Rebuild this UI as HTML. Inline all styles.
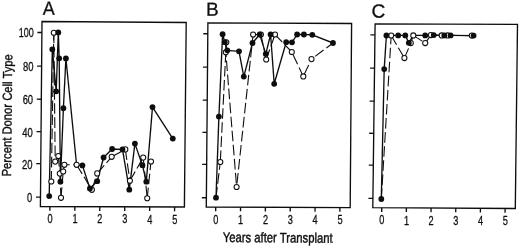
<!DOCTYPE html>
<html><head><meta charset="utf-8"><title>Percent Donor Cell Type</title>
<style>html,body{margin:0;padding:0;background:#fff;}body{width:520px;height:247px;overflow:hidden;font-family:"Liberation Sans",sans-serif;}svg{display:block;}</style>
</head><body>
<svg width="520" height="247" viewBox="0 0 520 247">
<defs><filter id="bl" x="-5%" y="-5%" width="110%" height="110%"><feGaussianBlur stdDeviation="0.4"/></filter></defs>
<rect width="520" height="247" fill="#fff"/>
<g filter="url(#bl)">
<g fill="none" stroke="#111" stroke-width="1.35" stroke-linecap="butt" stroke-linejoin="miter">
<polygon points="42.00,21.50 186.20,22.50 184.40,207.00 40.40,206.50"/>
<line x1="40.48" y1="197.19" x2="35.98" y2="197.17"/>
<line x1="40.77" y1="163.65" x2="36.27" y2="163.63"/>
<line x1="41.05" y1="131.61" x2="36.55" y2="131.59"/>
<line x1="41.33" y1="99.22" x2="36.83" y2="99.20"/>
<line x1="41.61" y1="66.09" x2="37.11" y2="66.07"/>
<line x1="41.90" y1="32.49" x2="37.40" y2="32.47"/>
<line x1="49.90" y1="206.53" x2="49.87" y2="210.73"/>
<line x1="74.84" y1="206.62" x2="74.81" y2="210.82"/>
<line x1="99.79" y1="206.71" x2="99.76" y2="210.91"/>
<line x1="124.73" y1="206.79" x2="124.70" y2="210.99"/>
<line x1="149.67" y1="206.88" x2="149.64" y2="211.08"/>
<line x1="174.61" y1="206.97" x2="174.58" y2="211.17"/>
<polygon points="207.90,22.80 351.60,23.50 350.20,207.60 206.30,207.00"/>
<line x1="206.38" y1="197.73" x2="201.88" y2="197.71"/>
<line x1="206.67" y1="164.34" x2="202.17" y2="164.32"/>
<line x1="206.95" y1="132.44" x2="202.45" y2="132.42"/>
<line x1="207.23" y1="100.18" x2="202.73" y2="100.16"/>
<line x1="207.51" y1="67.19" x2="203.01" y2="67.17"/>
<line x1="207.80" y1="33.74" x2="203.30" y2="33.72"/>
<line x1="215.70" y1="207.04" x2="215.67" y2="211.24"/>
<line x1="240.54" y1="207.14" x2="240.51" y2="211.34"/>
<line x1="265.38" y1="207.25" x2="265.35" y2="211.45"/>
<line x1="290.22" y1="207.35" x2="290.19" y2="211.55"/>
<line x1="315.06" y1="207.45" x2="315.03" y2="211.65"/>
<line x1="339.90" y1="207.56" x2="339.87" y2="211.76"/>
<polygon points="375.10,23.90 517.50,24.40 515.30,208.50 372.80,207.70"/>
<line x1="372.92" y1="198.45" x2="368.42" y2="198.43"/>
<line x1="373.33" y1="165.13" x2="368.83" y2="165.11"/>
<line x1="373.73" y1="133.30" x2="369.23" y2="133.28"/>
<line x1="374.13" y1="101.11" x2="369.63" y2="101.09"/>
<line x1="374.55" y1="68.20" x2="370.05" y2="68.18"/>
<line x1="374.96" y1="34.82" x2="370.46" y2="34.80"/>
<line x1="381.71" y1="207.75" x2="381.68" y2="211.95"/>
<line x1="406.38" y1="207.89" x2="406.35" y2="212.09"/>
<line x1="431.06" y1="208.03" x2="431.03" y2="212.23"/>
<line x1="455.74" y1="208.17" x2="455.71" y2="212.37"/>
<line x1="480.42" y1="208.30" x2="480.39" y2="212.50"/>
<line x1="505.10" y1="208.44" x2="505.07" y2="212.64"/>
</g>
<line fill="none" stroke="#111" stroke-width="1.1" stroke-dasharray="10.6 3.5" stroke-dashoffset="0.0" x1="51.3" y1="181.5" x2="53.8" y2="32.7"/>
<line fill="none" stroke="#111" stroke-width="1.1" stroke-dasharray="10.6 3.5" stroke-dashoffset="0.0" x1="53.8" y1="32.7" x2="55.2" y2="161.6"/>
<line fill="none" stroke="#111" stroke-width="1.1" stroke-dasharray="10.6 3.5" stroke-dashoffset="0.0" x1="55.2" y1="161.6" x2="58.3" y2="156.0"/>
<line fill="none" stroke="#111" stroke-width="1.1" stroke-dasharray="10.6 3.5" stroke-dashoffset="0.0" x1="58.3" y1="156.0" x2="59.8" y2="173.6"/>
<line fill="none" stroke="#111" stroke-width="1.1" stroke-dasharray="10.6 3.5" stroke-dashoffset="0.0" x1="59.8" y1="173.6" x2="61.0" y2="197.8"/>
<line fill="none" stroke="#111" stroke-width="1.1" stroke-dasharray="10.6 3.5" stroke-dashoffset="0.0" x1="61.0" y1="197.8" x2="63.2" y2="171.5"/>
<line fill="none" stroke="#111" stroke-width="1.1" stroke-dasharray="10.6 3.5" stroke-dashoffset="0.0" x1="63.2" y1="171.5" x2="64.4" y2="164.8"/>
<line fill="none" stroke="#111" stroke-width="1.1" stroke-dasharray="10.6 3.5" stroke-dashoffset="5.3" x1="64.4" y1="164.8" x2="76.6" y2="164.8"/>
<line fill="none" stroke="#111" stroke-width="1.1" stroke-dasharray="10.6 3.5" stroke-dashoffset="0.0" x1="76.6" y1="164.8" x2="91.9" y2="189.8"/>
<line fill="none" stroke="#111" stroke-width="1.1" stroke-dasharray="10.6 3.5" stroke-dashoffset="0.0" x1="91.9" y1="189.8" x2="97.2" y2="173.4"/>
<line fill="none" stroke="#111" stroke-width="1.1" stroke-dasharray="10.6 3.5" stroke-dashoffset="0.0" x1="97.2" y1="173.4" x2="111.7" y2="156.8"/>
<line fill="none" stroke="#111" stroke-width="1.1" stroke-dasharray="10.6 3.5" stroke-dashoffset="0.0" x1="111.7" y1="156.8" x2="125.3" y2="149.4"/>
<line fill="none" stroke="#111" stroke-width="1.1" stroke-dasharray="10.6 3.5" stroke-dashoffset="0.0" x1="125.3" y1="149.4" x2="129.9" y2="180.8"/>
<line fill="none" stroke="#111" stroke-width="1.1" stroke-dasharray="10.6 3.5" stroke-dashoffset="0.0" x1="129.9" y1="180.8" x2="143.2" y2="157.6"/>
<line fill="none" stroke="#111" stroke-width="1.1" stroke-dasharray="10.6 3.5" stroke-dashoffset="0.0" x1="143.2" y1="157.6" x2="147.2" y2="198.2"/>
<line fill="none" stroke="#111" stroke-width="1.1" stroke-dasharray="10.6 3.5" stroke-dashoffset="0.0" x1="147.2" y1="198.2" x2="151.0" y2="161.5"/>
<polyline fill="none" stroke="#111" stroke-width="1.35" stroke-linejoin="round" points="49.2,196.1 52.3,49.3 56.2,91.3 58.3,32.5 59.2,58.3 60.4,181.7 63.4,108.2 65.9,58.5 76.6,164.8 82.4,165.4 89.9,188.5 97.2,181.2 103.6,157.5 112.1,149.0 122.5,149.4 129.3,189.7 134.9,143.6 142.4,165.2 146.3,181.7 152.5,107.1 172.8,138.6"/>
<line fill="none" stroke="#111" stroke-width="1.1" stroke-dasharray="10.6 3.5" stroke-dashoffset="0.0" x1="216.0" y1="197.7" x2="220.3" y2="162.0"/>
<line fill="none" stroke="#111" stroke-width="1.1" stroke-dasharray="10.6 3.5" stroke-dashoffset="-1.0" x1="220.3" y1="162.0" x2="226.3" y2="42.2"/>
<line fill="none" stroke="#111" stroke-width="1.1" stroke-dasharray="10.6 3.5" stroke-dashoffset="0.0" x1="226.3" y1="42.2" x2="225.8" y2="52.2"/>
<line fill="none" stroke="#111" stroke-width="1.1" stroke-dasharray="10.6 3.5" stroke-dashoffset="5.8" x1="225.8" y1="52.2" x2="236.6" y2="187.0"/>
<line fill="none" stroke="#111" stroke-width="1.1" stroke-dasharray="10.6 3.5" stroke-dashoffset="-3.5" x1="236.6" y1="187.0" x2="253.1" y2="34.6"/>
<line fill="none" stroke="#111" stroke-width="1.1" stroke-dasharray="10.6 3.5" stroke-dashoffset="0.0" x1="253.1" y1="34.6" x2="260.9" y2="34.5"/>
<line fill="none" stroke="#111" stroke-width="1.1" stroke-dasharray="10.6 3.5" stroke-dashoffset="0.0" x1="260.9" y1="34.5" x2="266.2" y2="59.5"/>
<line fill="none" stroke="#111" stroke-width="1.1" stroke-dasharray="10.6 3.5" stroke-dashoffset="0.0" x1="266.2" y1="59.5" x2="275.0" y2="34.5"/>
<line fill="none" stroke="#111" stroke-width="1.1" stroke-dasharray="10.6 3.5" stroke-dashoffset="0.0" x1="275.0" y1="34.5" x2="291.8" y2="52.0"/>
<line fill="none" stroke="#111" stroke-width="1.1" stroke-dasharray="10.6 3.5" stroke-dashoffset="-3.0" x1="291.8" y1="52.0" x2="303.3" y2="76.4"/>
<line fill="none" stroke="#111" stroke-width="1.1" stroke-dasharray="10.6 3.5" stroke-dashoffset="-2.0" x1="303.3" y1="76.4" x2="311.5" y2="59.1"/>
<line fill="none" stroke="#111" stroke-width="1.1" stroke-dasharray="10.6 3.5" stroke-dashoffset="-4.5" x1="311.5" y1="59.1" x2="333.0" y2="43.0"/>
<polyline fill="none" stroke="#111" stroke-width="1.35" stroke-linejoin="round" points="216.0,197.7 218.9,116.6 222.6,34.2 224.8,42.2 227.3,50.3 239.0,51.3 243.8,76.6 252.5,43.0 259.7,34.5 265.8,53.9 270.6,34.5 274.2,83.8 286.2,42.2 292.0,42.3 297.1,34.5 303.9,34.5 312.3,34.8 333.0,43.0"/>
<line fill="none" stroke="#111" stroke-width="1.1" stroke-dasharray="10.6 3.5" stroke-dashoffset="0.0" x1="381.3" y1="199.0" x2="391.2" y2="35.5"/>
<line fill="none" stroke="#111" stroke-width="1.1" stroke-dasharray="10.6 3.5" stroke-dashoffset="0.0" x1="391.2" y1="35.5" x2="404.4" y2="58.1"/>
<line fill="none" stroke="#111" stroke-width="1.1" stroke-dasharray="10.6 3.5" stroke-dashoffset="0.0" x1="404.4" y1="58.1" x2="410.8" y2="43.1"/>
<line fill="none" stroke="#111" stroke-width="1.1" stroke-dasharray="10.6 3.5" stroke-dashoffset="0.0" x1="410.8" y1="43.1" x2="413.3" y2="35.4"/>
<line fill="none" stroke="#111" stroke-width="1.1" stroke-dasharray="10.6 3.5" stroke-dashoffset="0.0" x1="413.3" y1="35.4" x2="425.2" y2="43.1"/>
<line fill="none" stroke="#111" stroke-width="1.1" stroke-dasharray="10.6 3.5" stroke-dashoffset="0.0" x1="425.2" y1="43.1" x2="430.9" y2="35.1"/>
<line fill="none" stroke="#111" stroke-width="1.1" stroke-dasharray="10.6 3.5" stroke-dashoffset="0.0" x1="430.9" y1="35.1" x2="441.7" y2="35.4"/>
<line fill="none" stroke="#111" stroke-width="1.1" stroke-dasharray="10.6 3.5" stroke-dashoffset="0.0" x1="441.7" y1="35.4" x2="447.6" y2="35.4"/>
<line fill="none" stroke="#111" stroke-width="1.1" stroke-dasharray="10.6 3.5" stroke-dashoffset="0.0" x1="447.6" y1="35.4" x2="471.8" y2="35.6"/>
<polyline fill="none" stroke="#111" stroke-width="1.35" stroke-linejoin="round" points="381.3,199.0 384.2,69.1 386.4,35.5 398.2,35.4 405.3,35.4 408.8,42.8 413.2,35.4 425.2,35.4 433.7,35.1 444.3,35.4 450.6,35.4 473.6,35.6"/>
<circle cx="51.3" cy="181.5" r="2.55" fill="#fff" stroke="#111" stroke-width="1.05"/>
<circle cx="53.8" cy="32.7" r="2.55" fill="#fff" stroke="#111" stroke-width="1.05"/>
<circle cx="55.2" cy="161.6" r="2.55" fill="#fff" stroke="#111" stroke-width="1.05"/>
<circle cx="58.3" cy="156.0" r="2.55" fill="#fff" stroke="#111" stroke-width="1.05"/>
<circle cx="59.8" cy="173.6" r="2.55" fill="#fff" stroke="#111" stroke-width="1.05"/>
<circle cx="61.0" cy="197.8" r="2.55" fill="#fff" stroke="#111" stroke-width="1.05"/>
<circle cx="63.2" cy="171.5" r="2.55" fill="#fff" stroke="#111" stroke-width="1.05"/>
<circle cx="64.4" cy="164.8" r="2.55" fill="#fff" stroke="#111" stroke-width="1.05"/>
<circle cx="76.6" cy="164.8" r="2.55" fill="#fff" stroke="#111" stroke-width="1.05"/>
<circle cx="91.9" cy="189.8" r="2.55" fill="#fff" stroke="#111" stroke-width="1.05"/>
<circle cx="97.2" cy="173.4" r="2.55" fill="#fff" stroke="#111" stroke-width="1.05"/>
<circle cx="111.7" cy="156.8" r="2.55" fill="#fff" stroke="#111" stroke-width="1.05"/>
<circle cx="125.3" cy="149.4" r="2.55" fill="#fff" stroke="#111" stroke-width="1.05"/>
<circle cx="129.9" cy="180.8" r="2.55" fill="#fff" stroke="#111" stroke-width="1.05"/>
<circle cx="143.2" cy="157.6" r="2.55" fill="#fff" stroke="#111" stroke-width="1.05"/>
<circle cx="147.2" cy="198.2" r="2.55" fill="#fff" stroke="#111" stroke-width="1.05"/>
<circle cx="151.0" cy="161.5" r="2.55" fill="#fff" stroke="#111" stroke-width="1.05"/>
<circle cx="49.2" cy="196.1" r="2.9" fill="#111"/>
<circle cx="52.3" cy="49.3" r="2.9" fill="#111"/>
<circle cx="56.2" cy="91.3" r="2.9" fill="#111"/>
<circle cx="58.3" cy="32.5" r="2.9" fill="#111"/>
<circle cx="59.2" cy="58.3" r="2.9" fill="#111"/>
<circle cx="60.4" cy="181.7" r="2.9" fill="#111"/>
<circle cx="63.4" cy="108.2" r="2.9" fill="#111"/>
<circle cx="65.9" cy="58.5" r="2.9" fill="#111"/>
<circle cx="82.4" cy="165.4" r="2.9" fill="#111"/>
<circle cx="89.9" cy="188.5" r="2.9" fill="#111"/>
<circle cx="97.2" cy="181.2" r="2.9" fill="#111"/>
<circle cx="103.6" cy="157.5" r="2.9" fill="#111"/>
<circle cx="112.1" cy="149.0" r="2.9" fill="#111"/>
<circle cx="122.5" cy="149.4" r="2.9" fill="#111"/>
<circle cx="129.3" cy="189.7" r="2.9" fill="#111"/>
<circle cx="134.9" cy="143.6" r="2.9" fill="#111"/>
<circle cx="142.4" cy="165.2" r="2.9" fill="#111"/>
<circle cx="146.3" cy="181.7" r="2.9" fill="#111"/>
<circle cx="152.5" cy="107.1" r="2.9" fill="#111"/>
<circle cx="172.8" cy="138.6" r="2.9" fill="#111"/>
<circle cx="220.3" cy="162.0" r="2.55" fill="#fff" stroke="#111" stroke-width="1.05"/>
<circle cx="226.3" cy="42.2" r="2.55" fill="#fff" stroke="#111" stroke-width="1.05"/>
<circle cx="225.8" cy="52.2" r="2.55" fill="#fff" stroke="#111" stroke-width="1.05"/>
<circle cx="236.6" cy="187.0" r="2.55" fill="#fff" stroke="#111" stroke-width="1.05"/>
<circle cx="253.1" cy="34.6" r="2.55" fill="#fff" stroke="#111" stroke-width="1.05"/>
<circle cx="260.9" cy="34.5" r="2.55" fill="#fff" stroke="#111" stroke-width="1.05"/>
<circle cx="266.2" cy="59.5" r="2.55" fill="#fff" stroke="#111" stroke-width="1.05"/>
<circle cx="275.0" cy="34.5" r="2.55" fill="#fff" stroke="#111" stroke-width="1.05"/>
<circle cx="291.8" cy="52.0" r="2.55" fill="#fff" stroke="#111" stroke-width="1.05"/>
<circle cx="303.3" cy="76.4" r="2.55" fill="#fff" stroke="#111" stroke-width="1.05"/>
<circle cx="311.5" cy="59.1" r="2.55" fill="#fff" stroke="#111" stroke-width="1.05"/>
<circle cx="216.0" cy="197.7" r="2.9" fill="#111"/>
<circle cx="218.9" cy="116.6" r="2.9" fill="#111"/>
<circle cx="222.6" cy="34.2" r="2.9" fill="#111"/>
<circle cx="224.8" cy="42.2" r="2.9" fill="#111"/>
<circle cx="227.3" cy="50.3" r="2.9" fill="#111"/>
<circle cx="239.0" cy="51.3" r="2.9" fill="#111"/>
<circle cx="243.8" cy="76.6" r="2.9" fill="#111"/>
<circle cx="252.5" cy="43.0" r="2.9" fill="#111"/>
<circle cx="259.7" cy="34.5" r="2.9" fill="#111"/>
<circle cx="265.8" cy="53.9" r="2.9" fill="#111"/>
<circle cx="270.6" cy="34.5" r="2.9" fill="#111"/>
<circle cx="274.2" cy="83.8" r="2.9" fill="#111"/>
<circle cx="286.2" cy="42.2" r="2.9" fill="#111"/>
<circle cx="292.0" cy="42.3" r="2.9" fill="#111"/>
<circle cx="297.1" cy="34.5" r="2.9" fill="#111"/>
<circle cx="303.9" cy="34.5" r="2.9" fill="#111"/>
<circle cx="312.3" cy="34.8" r="2.9" fill="#111"/>
<circle cx="333.0" cy="43.0" r="2.9" fill="#111"/>
<circle cx="391.2" cy="35.5" r="2.55" fill="#fff" stroke="#111" stroke-width="1.05"/>
<circle cx="404.4" cy="58.1" r="2.55" fill="#fff" stroke="#111" stroke-width="1.05"/>
<circle cx="410.8" cy="43.1" r="2.55" fill="#fff" stroke="#111" stroke-width="1.05"/>
<circle cx="413.3" cy="35.4" r="2.55" fill="#fff" stroke="#111" stroke-width="1.05"/>
<circle cx="425.2" cy="43.1" r="2.55" fill="#fff" stroke="#111" stroke-width="1.05"/>
<circle cx="430.9" cy="35.1" r="2.55" fill="#fff" stroke="#111" stroke-width="1.05"/>
<circle cx="441.7" cy="35.4" r="2.55" fill="#fff" stroke="#111" stroke-width="1.05"/>
<circle cx="447.6" cy="35.4" r="2.55" fill="#fff" stroke="#111" stroke-width="1.05"/>
<circle cx="471.8" cy="35.6" r="2.55" fill="#fff" stroke="#111" stroke-width="1.05"/>
<circle cx="381.3" cy="199.0" r="2.9" fill="#111"/>
<circle cx="384.2" cy="69.1" r="2.9" fill="#111"/>
<circle cx="386.4" cy="35.5" r="2.9" fill="#111"/>
<circle cx="398.2" cy="35.4" r="2.9" fill="#111"/>
<circle cx="405.3" cy="35.4" r="2.9" fill="#111"/>
<circle cx="408.8" cy="42.8" r="2.9" fill="#111"/>
<circle cx="425.2" cy="35.4" r="2.9" fill="#111"/>
<circle cx="433.7" cy="35.1" r="2.9" fill="#111"/>
<circle cx="444.3" cy="35.4" r="2.9" fill="#111"/>
<circle cx="450.6" cy="35.4" r="2.9" fill="#111"/>
<circle cx="473.6" cy="35.6" r="2.9" fill="#111"/>
<g font-family="Liberation Sans, sans-serif" fill="#111" stroke="#111" stroke-width="0.3" stroke-linejoin="round">
<text x="42.8" y="14.8" font-size="19" textLength="12.0" lengthAdjust="spacingAndGlyphs" transform="rotate(0.4 42 15)">A</text>
<text x="205.9" y="15.8" font-size="19" transform="rotate(0.4 206 16)">B</text>
<text x="371.6" y="17.4" font-size="19" transform="rotate(0.4 372 17)">C</text>
<text x="27.08" y="202.19" font-size="12" textLength="5.2" lengthAdjust="spacingAndGlyphs">0</text>
<text x="22.07" y="168.65" font-size="12" textLength="10.5" lengthAdjust="spacingAndGlyphs">20</text>
<text x="22.35" y="136.61" font-size="12" textLength="10.5" lengthAdjust="spacingAndGlyphs">40</text>
<text x="22.63" y="104.22" font-size="12" textLength="10.5" lengthAdjust="spacingAndGlyphs">60</text>
<text x="22.91" y="71.09" font-size="12" textLength="10.5" lengthAdjust="spacingAndGlyphs">80</text>
<text x="18.70" y="37.49" font-size="12" textLength="15.0" lengthAdjust="spacingAndGlyphs">100</text>
<text x="47.45" y="223.23" font-size="12" textLength="5.1" lengthAdjust="spacingAndGlyphs">0</text>
<text x="72.39" y="223.32" font-size="12" textLength="5.1" lengthAdjust="spacingAndGlyphs">1</text>
<text x="97.34" y="223.41" font-size="12" textLength="5.1" lengthAdjust="spacingAndGlyphs">2</text>
<text x="122.28" y="223.49" font-size="12" textLength="5.1" lengthAdjust="spacingAndGlyphs">3</text>
<text x="147.22" y="223.58" font-size="12" textLength="5.1" lengthAdjust="spacingAndGlyphs">4</text>
<text x="172.16" y="223.67" font-size="12" textLength="5.1" lengthAdjust="spacingAndGlyphs">5</text>
<text x="213.25" y="223.74" font-size="12" textLength="5.1" lengthAdjust="spacingAndGlyphs">0</text>
<text x="238.09" y="223.84" font-size="12" textLength="5.1" lengthAdjust="spacingAndGlyphs">1</text>
<text x="262.93" y="223.95" font-size="12" textLength="5.1" lengthAdjust="spacingAndGlyphs">2</text>
<text x="287.77" y="224.05" font-size="12" textLength="5.1" lengthAdjust="spacingAndGlyphs">3</text>
<text x="312.61" y="224.15" font-size="12" textLength="5.1" lengthAdjust="spacingAndGlyphs">4</text>
<text x="337.45" y="224.26" font-size="12" textLength="5.1" lengthAdjust="spacingAndGlyphs">5</text>
<text x="379.26" y="224.45" font-size="12" textLength="5.1" lengthAdjust="spacingAndGlyphs">0</text>
<text x="403.93" y="224.59" font-size="12" textLength="5.1" lengthAdjust="spacingAndGlyphs">1</text>
<text x="428.61" y="224.73" font-size="12" textLength="5.1" lengthAdjust="spacingAndGlyphs">2</text>
<text x="453.29" y="224.87" font-size="12" textLength="5.1" lengthAdjust="spacingAndGlyphs">3</text>
<text x="477.97" y="225.00" font-size="12" textLength="5.1" lengthAdjust="spacingAndGlyphs">4</text>
<text x="502.65" y="225.14" font-size="12" textLength="5.1" lengthAdjust="spacingAndGlyphs">5</text>
<text x="222.8" y="242.0" font-size="14" textLength="109.8" lengthAdjust="spacingAndGlyphs" stroke-width="0.45" transform="rotate(0.4 222 242)">Years after Transplant</text>
<text x="0" y="0" font-size="13.1" textLength="122.4" lengthAdjust="spacingAndGlyphs" stroke-width="0.4" transform="translate(11.0 176.5) rotate(-89.4)">Percent Donor Cell Type</text>
</g>
</g>
</svg>
</body></html>
